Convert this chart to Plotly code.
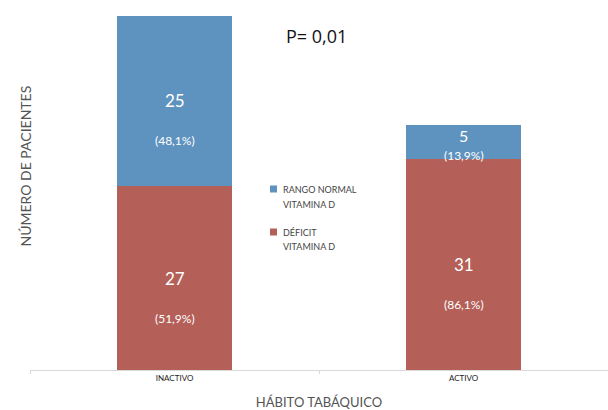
import plotly.graph_objects as go

# Smoking habit vs. vitamin D status (patient counts)
categories = ["INACTIVO", "ACTIVO"]
deficit = [27, 31]
normal = [25, 5]
deficit_pct = ["(51,9%)", "(86,1%)"]
normal_pct = ["(48,1%)", "(13,9%)"]
legend_normal = ["RANGO NORMAL", "VITAMINA D"]
legend_deficit = ["DÉFICIT", "VITAMINA D"]

BLUE = "#5f93bf"
RED = "#b45f58"
FONT = "Lato"

W, H = 608, 410
ML, MR, MT, MB = 30, 0, 0, 40
pw, ph = W - ML - MR, H - MT - MB


def px(x):
    return (x - ML) / pw


def py(y):
    return 1 - (y - MT) / ph


fig = go.Figure()
fig.add_trace(go.Bar(
    x=categories, y=deficit, name="<br>".join(legend_deficit),
    marker=dict(color=RED, line=dict(width=0)), showlegend=False,
))
fig.add_trace(go.Bar(
    x=categories, y=normal, name="<br>".join(legend_normal),
    marker=dict(color=BLUE, line=dict(width=0)), showlegend=False,
))

# Count and percentage labels inside each segment
annotations = []
for i, cat in enumerate(categories):
    segments = [(0, deficit[i], deficit_pct[i]),
                (deficit[i], normal[i], normal_pct[i])]
    for base, val, pct in segments:
        mid = base + val / 2
        small = val < 10
        annotations.append(dict(
            x=cat, y=mid, xref="x", yref="y", text=str(val), showarrow=False,
            font=dict(family=FONT, size=17 if not small else 16, color="white"),
            yshift=6 if small else 0,
        ))
        annotations.append(dict(
            x=cat, y=mid, xref="x", yref="y", text=pct, showarrow=False,
            font=dict(family=FONT, size=12, color="white"),
            yshift=-14 if small else -40,
        ))

annotations.append(dict(
    x=px(316), y=py(22), xref="paper", yref="paper", text="P= 0,01",
    showarrow=False, font=dict(family="Open Sans", size=18, color="#111111"),
))
annotations.append(dict(
    x=px(14), y=py(166), xref="paper", yref="paper", text="NÚMERO DE PACIENTES",
    showarrow=False, textangle=-90,
    font=dict(family=FONT, size=14, color="#555555"),
))

# Legend: small colour swatch followed by two text lines
shapes = []
for color, lines, y0 in [(BLUE, legend_normal, 189), (RED, legend_deficit, 232)]:
    shapes.append(dict(
        type="rect", xref="paper", yref="paper",
        x0=px(270), x1=px(277), y0=py(y0 - 3.5), y1=py(y0 + 3.5),
        fillcolor=color, line=dict(width=0),
    ))
    for k, line in enumerate(lines):
        annotations.append(dict(
            x=px(281), y=py(y0 + 15 * k), xref="paper", yref="paper",
            text=line, showarrow=False, xanchor="left", yanchor="middle",
            font=dict(family=FONT, size=9, color="#444444"),
        ))

fig.update_layout(
    width=W, height=H,
    margin=dict(l=ML, r=MR, t=MT, b=MB),
    barmode="stack", bargap=0.6,
    plot_bgcolor="white", paper_bgcolor="white",
    font=dict(family=FONT, color="#555555"),
    showlegend=False,
    xaxis=dict(
        showline=True, linecolor="#d9d9d9", linewidth=1,
        ticks="outside", ticklen=3, tickcolor="#d9d9d9", tickson="boundaries",
        tickfont=dict(family=FONT, size=8, color="#222222"),
        title=dict(text="HÁBITO TABÁQUICO", standoff=18,
                   font=dict(family=FONT, size=13, color="#555555")),
        range=[-0.5, 1.5],
    ),
    yaxis=dict(
        range=[0, 54.3], showgrid=False, showticklabels=False, zeroline=False,
        showline=False,
    ),
    annotations=annotations,
    shapes=shapes,
)

fig.write_html("out.html")
